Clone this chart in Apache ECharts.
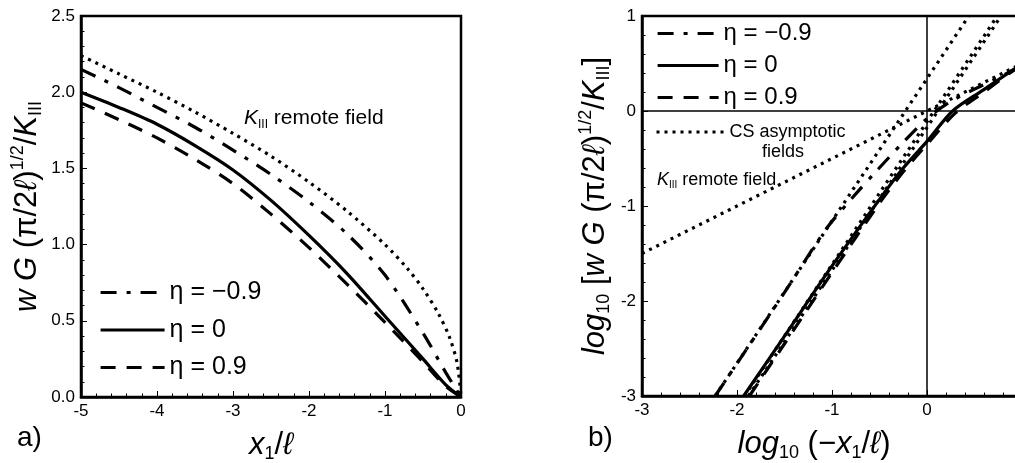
<!DOCTYPE html>
<html>
<head>
<meta charset="utf-8">
<title>w G profiles ahead of the crack tip</title>
<script src="https://cdn.jsdelivr.net/npm/echarts@6/dist/echarts.min.js"></script>
<style>
  html, body { margin: 0; padding: 0; background: #fff; }
  #chart { width: 1015px; height: 463px; }
</style>
</head>
<body>
<div id="chart"></div>
<script>
// ---- panel a) : linear axes, x1/l from -5 to 0 ----
const xA = [-5, -4.5, -4, -3.5, -3, -2.5, -2, -1.5, -1, -0.5, -0.2, 0]

const remoteAX = [-5, -4.5, -4, -3.5, -3, -2.5, -2, -1.5, -1, -0.7, -0.5, -0.3, -0.15, -0.05, 0]
const remoteAY = [2.24, 2.12, 2.0, 1.87, 1.73, 1.58, 1.41, 1.22, 1.0, 0.84, 0.71, 0.55, 0.39, 0.22, 0]

const etaM09AY = [2.15, 2.03, 1.9, 1.77, 1.62, 1.46, 1.28, 1.07, 0.8, 0.42, 0.16, 0]
const eta0AY = [2.0, 1.9, 1.79, 1.65, 1.49, 1.29, 1.06, 0.81, 0.53, 0.25, 0.08, 0]
const eta09AY = [1.93, 1.82, 1.7, 1.56, 1.4, 1.2, 0.98, 0.74, 0.49, 0.23, 0.07, 0]

// ---- panel b) : log10 axes ----
const remoteBX = [-3, 0, 1]
const remoteBY = [-1.5, 0, 0.5]

// CS asymptotic (near tip) lines
const csM09BX = [-2.23, 0.44]
const csM09BY = [-3.0, 1.0]
const cs0BX = [-1.92, 0.74]
const cs0BY = [-3.0, 1.0]
const cs09BX = [-1.88, 0.78]
const cs09BY = [-3.0, 1.0]

const etaM09BX = [-2.23, -1.5, -1.06, -0.8, -0.54, -0.26, 0, 0.25, 0.5, 0.75, 1.0]
const etaM09BY = [-3.0, -1.91, -1.24, -0.93, -0.64, -0.34, -0.08, 0.1, 0.23, 0.35, 0.48]

const eta0BX = [-1.93, -1.5, -1.02, -0.5, -0.25, 0, 0.27, 0.59, 0.93, 1.0]
const eta0BY = [-3.0, -2.37, -1.66, -0.93, -0.6, -0.32, 0, 0.22, 0.45, 0.49]

const eta09BX = [-1.87, -1.5, -1.0, -0.5, -0.25, 0, 0.3, 0.6, 0.9, 1.0]
const eta09BY = [-3.0, -2.45, -1.7, -0.97, -0.64, -0.35, -0.02, 0.2, 0.42, 0.47]

const legendNames = ['η = −0.9', 'η = 0', 'η = 0.9']
const csName = 'CS asymptotic fields'
const remoteName = 'remote field'

const FONT = '"Liberation Sans", Arial, Helvetica, sans-serif'
const DASHDOT = [16, 10, 4, 10]
const DASH = [15, 11]
const DOT = [3, 5]
const LW = 3.2
const DASHES = [DASHDOT, 'solid', DASH]

function pairs(xs, ys) {
  return xs.map((x, i) => [x, ys[i]])
}

function curve(name, xs, ys, g, dash, smooth) {
  return {
    name: name,
    type: 'line',
    xAxisIndex: g,
    yAxisIndex: g,
    data: pairs(xs, ys),
    symbol: 'none',
    smooth: smooth,
    lineStyle: { color: '#000', width: LW, type: dash, cap: 'butt' },
    silent: true
  }
}

// rich styles for axis titles
const rich = {
  n: { fontSize: 31, fontFamily: FONT, color: '#000', lineHeight: 36 },
  i: { fontSize: 31, fontFamily: FONT, fontStyle: 'italic', color: '#000', lineHeight: 36 },
  sup: { fontSize: 18, fontFamily: FONT, color: '#000', verticalAlign: 'top', lineHeight: 18 },
  sub: { fontSize: 18, fontFamily: FONT, color: '#000', verticalAlign: 'bottom', lineHeight: 18 }
}

function valueAxis(g, min, max, interval, extra) {
  return Object.assign({
    type: 'value',
    gridIndex: g,
    min: min,
    max: max,
    interval: interval,
    nameLocation: 'middle',
    nameTextStyle: { rich: rich },
    axisLine: { show: true, onZero: false, lineStyle: { color: '#000', width: 2.5 } },
    axisTick: { show: true, inside: true, length: 6, lineStyle: { color: '#000', width: 1 } },
    minorTick: { show: true, splitNumber: 5, length: 3.5, lineStyle: { color: '#000', width: 1 } },
    splitLine: { show: false },
    axisLabel: { color: '#000', fontSize: 17, fontFamily: FONT, margin: 6 }
  }, extra)
}

// legend entries: line sample only, hide the symbol
function legendItem(name, dash, width) {
  return { name: name, itemStyle: { opacity: 0 }, lineStyle: { type: dash, width: width, color: '#000' } }
}

function etaLegend(left, top, gap, width, size) {
  return {
    data: legendNames.map((n, k) => legendItem(n, DASHES[k], LW)),
    orient: 'vertical',
    left: left,
    top: top,
    padding: 0,
    itemWidth: width,
    itemHeight: 14,
    itemGap: gap,
    selectedMode: false,
    textStyle: { color: '#000', fontSize: size, fontFamily: FONT, lineHeight: 25 }
  }
}

const chart = echarts.init(document.getElementById('chart'), null, { renderer: 'canvas' })

const option = {
  animation: false,
  backgroundColor: '#fff',
  grid: [
    { left: 81, top: 16, width: 380, height: 381, show: true, borderColor: '#000', borderWidth: 2.5, outerBoundsMode: 'none' },
    { left: 642, top: 16, width: 380, height: 380, show: true, borderColor: '#000', borderWidth: 2.5, outerBoundsMode: 'none' }
  ],
  xAxis: [
    valueAxis(0, -5, 0, 1, { name: '{i|x}{sub|1}{n|/}{i|ℓ}', nameGap: 30 }),
    valueAxis(1, -3, 1, 1, {
      name: '{i|log}{sub|10}{n| (−}{i|x}{sub|1}{n|/}{i|ℓ}{n|)}',
      nameGap: 30,
      nameTextStyle: { rich: rich, padding: [0, 36, 0, 0] }
    })
  ],
  yAxis: [
    valueAxis(0, 0, 2.5, 0.5, {
      name: '{i|w G }{n|(π/2}{i|ℓ}{n|)}{sup|1/2}{n|/}{i|K}{sub|III}',
      nameGap: 36,
      axisLabel: { color: '#000', fontSize: 17, fontFamily: FONT, margin: 6, formatter: v => v.toFixed(1) }
    }),
    valueAxis(1, -3, 1, 1, {
      name: '{i|log}{sub|10}{n| [}{i|w G }{n|(π/2}{i|ℓ}{n|)}{sup|1/2}{n|/}{i|K}{sub|III}{n|]}',
      nameGap: 29
    })
  ],
  legend: [
    etaLegend(99, 280, 12.5, 64, 25),
    etaLegend(656, 21, 7, 61, 24),
    {
      data: [legendItem(csName, DOT, 3)],
      left: 655,
      top: 122,
      padding: 0,
      itemWidth: 68,
      itemHeight: 14,
      selectedMode: false,
      formatter: () => 'CS asymptotic',
      textStyle: { color: '#000', fontSize: 18, fontFamily: FONT, lineHeight: 20 }
    }
  ],
  graphic: [
    { type: 'text', left: 17, top: 424, style: { text: 'a)', font: '28px ' + FONT, fill: '#000' } },
    { type: 'text', left: 588, top: 424, style: { text: 'b)', font: '28px ' + FONT, fill: '#000' } },
    {
      type: 'text', left: 244, top: 108,
      style: {
        text: '{i|K}{s|III}{n| remote field}',
        rich: {
          i: { fontSize: 21, fontFamily: FONT, fontStyle: 'italic', fill: '#000', lineHeight: 24 },
          s: { fontSize: 12, fontFamily: FONT, fill: '#000', verticalAlign: 'bottom', lineHeight: 12 },
          n: { fontSize: 21, fontFamily: FONT, fill: '#000', lineHeight: 24 }
        }
      }
    },
    { type: 'text', left: 762, top: 143, style: { text: 'fields', font: '18px ' + FONT, fill: '#000' } },
    {
      type: 'text', left: 657, top: 171,
      style: {
        text: '{i|K}{s|III}{n| remote field}',
        rich: {
          i: { fontSize: 18, fontFamily: FONT, fontStyle: 'italic', fill: '#000', lineHeight: 21 },
          s: { fontSize: 10, fontFamily: FONT, fill: '#000', verticalAlign: 'bottom', lineHeight: 10 },
          n: { fontSize: 18, fontFamily: FONT, fill: '#000', lineHeight: 21 }
        }
      }
    }
  ],
  series: [
    // panel a
    curve(remoteName, remoteAX, remoteAY, 0, DOT, 0.3),
    curve(legendNames[0], xA, etaM09AY, 0, DASHDOT, 0.3),
    curve(legendNames[1], xA, eta0AY, 0, 'solid', 0.3),
    curve(legendNames[2], xA, eta09AY, 0, DASH, 0.3),
    // panel b
    Object.assign(curve(remoteName, remoteBX, remoteBY, 1, DOT, false), {
      markLine: {
        silent: true,
        symbol: ['none', 'none'],
        label: { show: false },
        lineStyle: { color: '#000', type: 'solid', width: 1.5 },
        data: [{ xAxis: 0 }, { yAxis: 0 }]
      }
    }),
    curve(csName, csM09BX, csM09BY, 1, DOT, false),
    curve(csName, cs0BX, cs0BY, 1, DOT, false),
    curve(csName, cs09BX, cs09BY, 1, DOT, false),
    curve(legendNames[0], etaM09BX, etaM09BY, 1, DASHDOT, 0.3),
    curve(legendNames[1], eta0BX, eta0BY, 1, 'solid', 0.3),
    curve(legendNames[2], eta09BX, eta09BY, 1, DASH, 0.3)
  ]
}

chart.setOption(option)
</script>
</body>
</html>
